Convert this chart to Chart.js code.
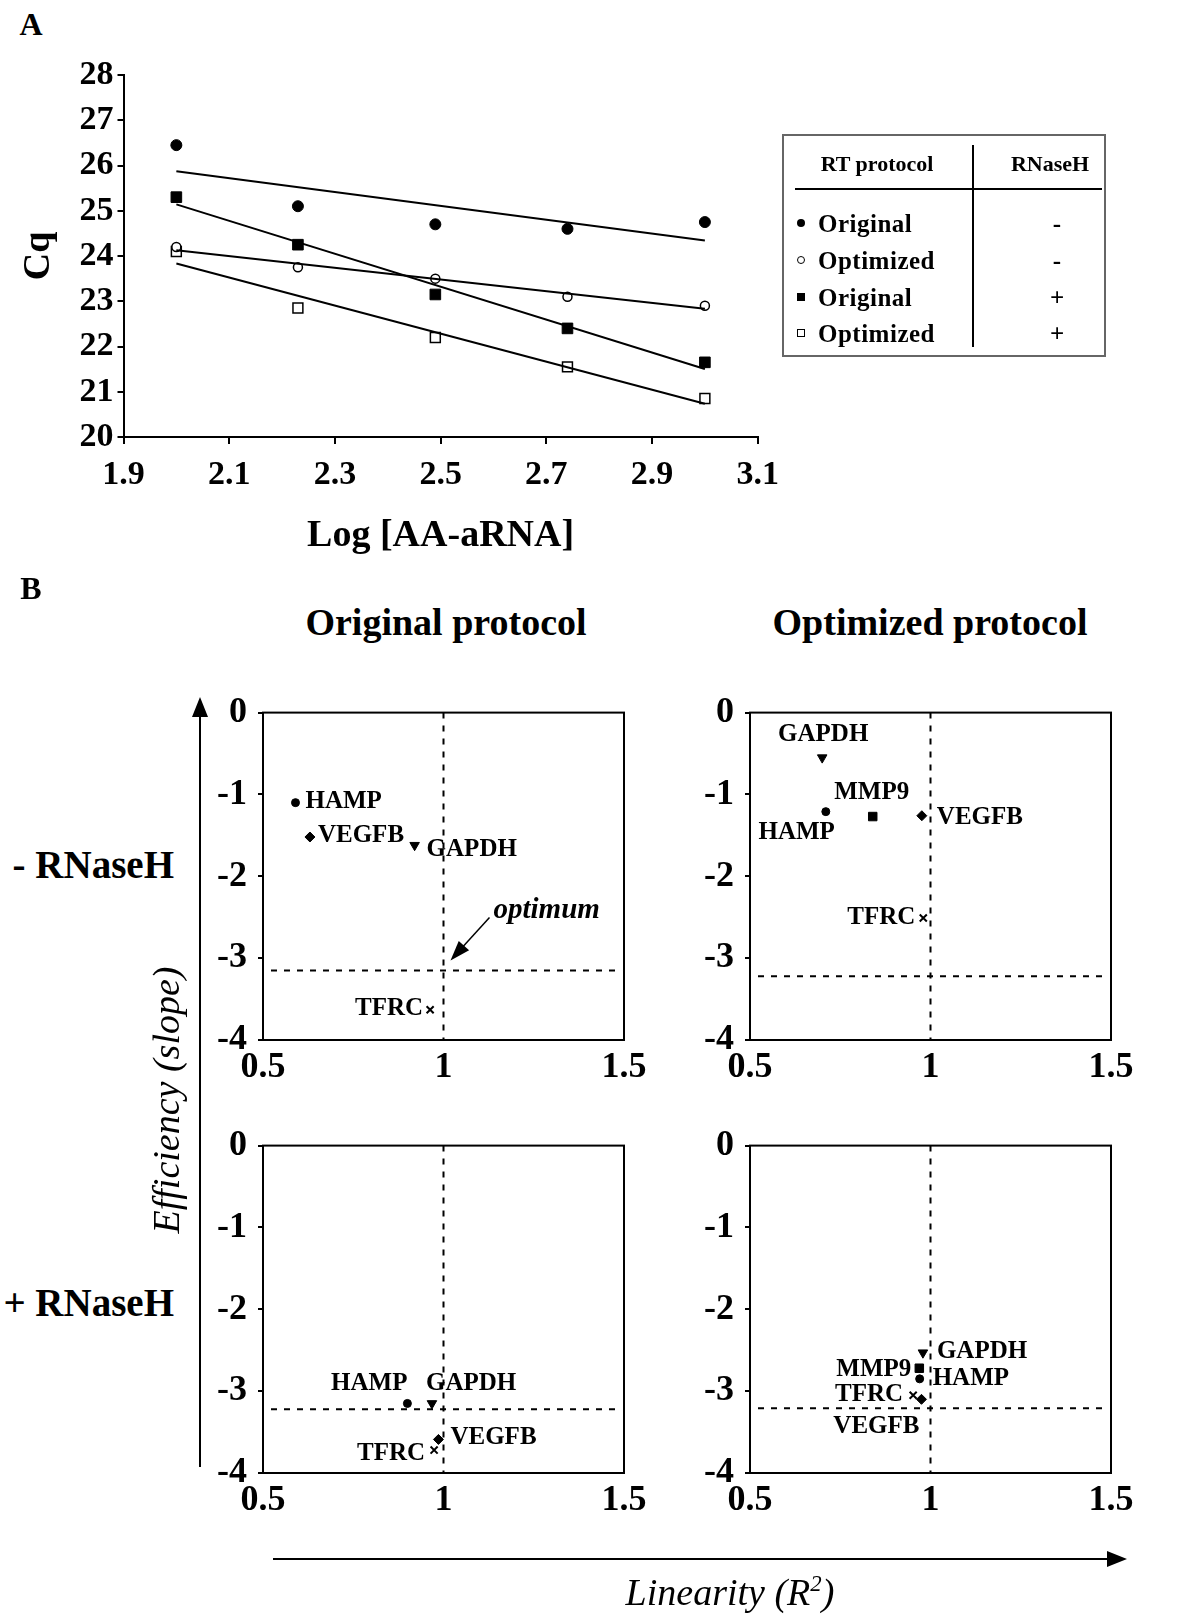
<!DOCTYPE html>
<html>
<head>
<meta charset="utf-8">
<script src="https://cdn.jsdelivr.net/npm/chart.js@4.4.0/dist/chart.umd.min.js"></script>
<style>
body{margin:0;background:#fff;}
#page{position:relative;width:1200px;height:1614px;font-family:"Liberation Serif","Times New Roman",serif;color:#000;overflow:hidden;}
canvas{position:absolute;}
.t{position:absolute;white-space:nowrap;font-weight:bold;line-height:1;transform:translate(-50%,-50%);}
.r{transform:translate(-100%,-50%);}
.l{transform:translate(0,-50%);}
.mk{position:absolute;box-sizing:border-box;transform:translate(-50%,-50%);}
</style>
</head>
<body>
<div id="page">
  <div class="t" style="left:31px;top:24px;font-size:32px">A</div>
  <canvas id="chartA" width="790" height="580" style="left:0;top:0"></canvas>

  <!-- RT protocol / RNaseH key -->
  <div style="position:absolute;left:782px;top:134px;width:324px;height:223px;box-sizing:border-box;border:2px solid #666"></div>
  <div style="position:absolute;left:972px;top:145px;width:2px;height:202px;background:#000"></div>
  <div style="position:absolute;left:795px;top:188px;width:307px;height:2px;background:#000"></div>
  <div class="t" style="left:877px;top:164px;font-size:22px">RT protocol</div>
  <div class="t" style="left:1050px;top:164px;font-size:22px">RNaseH</div>
  <div class="mk" style="left:801px;top:223px;width:8px;height:8px;border-radius:50%;background:#000"></div>
  <div class="mk" style="left:801px;top:260px;width:8px;height:8px;border-radius:50%;border:1.2px solid #000"></div>
  <div class="mk" style="left:801px;top:297px;width:8px;height:8px;background:#000"></div>
  <div class="mk" style="left:801px;top:333px;width:8px;height:8px;border:1.2px solid #000"></div>
  <div class="t l" style="left:818px;top:223px;font-size:25px;letter-spacing:0.5px">Original</div>
  <div class="t l" style="left:818px;top:260px;font-size:25px;letter-spacing:0.5px">Optimized</div>
  <div class="t l" style="left:818px;top:297px;font-size:25px;letter-spacing:0.5px">Original</div>
  <div class="t l" style="left:818px;top:333px;font-size:25px;letter-spacing:0.5px">Optimized</div>
  <div class="t" style="left:1057px;top:223px;font-size:25px">-</div>
  <div class="t" style="left:1057px;top:260px;font-size:25px">-</div>
  <div class="t" style="left:1057px;top:297px;font-size:25px">+</div>
  <div class="t" style="left:1057px;top:333px;font-size:25px">+</div>

  <div class="t" style="left:31px;top:588px;font-size:32px">B</div>
  <div class="t" style="left:446px;top:622px;font-size:38px">Original protocol</div>
  <div class="t" style="left:930px;top:622px;font-size:38px">Optimized protocol</div>
  <div class="t r" style="left:174px;top:864px;font-size:39px">- RNaseH</div>
  <div class="t r" style="left:174px;top:1302px;font-size:39px">+ RNaseH</div>

  <canvas id="chartB1" width="450" height="430" style="left:205px;top:680px"></canvas>
  <canvas id="chartB2" width="450" height="430" style="left:692px;top:680px"></canvas>
  <canvas id="chartB3" width="450" height="430" style="left:205px;top:1113px"></canvas>
  <canvas id="chartB4" width="450" height="430" style="left:692px;top:1113px"></canvas>

  <svg width="1200" height="1614" style="position:absolute;left:0;top:0;pointer-events:none">
    <line x1="200" y1="1467" x2="200" y2="712" stroke="#000" stroke-width="2"/>
    <polygon points="200,697 192,717 208,717" fill="#000"/>
    <line x1="273" y1="1559" x2="1110" y2="1559" stroke="#000" stroke-width="2"/>
    <polygon points="1127,1559 1107,1551 1107,1567" fill="#000"/>
  </svg>
  <div class="t" style="left:166px;top:1100px;font-size:38px;font-weight:normal;font-style:italic;transform:translate(-50%,-50%) rotate(-90deg)">Efficiency (slope)</div>
  <div class="t" style="left:730px;top:1592px;font-size:38px;font-weight:normal;font-style:italic">Linearity (R<sup style="font-size:60%">2</sup>)</div>
</div>

<script>
// panel A: Cq vs log amount of AA-aRNA
const logConc = [2.0, 2.23, 2.49, 2.74, 3.0];
const cqOrigMinus = [26.45, 25.1, 24.7, 24.6, 24.75];
const cqOptMinus  = [24.2, 23.75, 23.5, 23.1, 22.9];
const cqOrigPlus  = [25.3, 24.25, 23.15, 22.4, 21.65];
const cqOptPlus   = [24.1, 22.85, 22.2, 21.55, 20.85];
const cqTicks = [20, 28, 1];
const logTicks = [1.9, 3.1, 0.2];

// panel B: linearity (R2) and efficiency (slope) per gene
const genes = ['HAMP', 'VEGFB', 'GAPDH', 'TFRC', 'MMP9'];
const r2OrigMinus    = [0.59, 0.63, 0.92, 0.963, null];
const slopeOrigMinus = [-1.1, -1.52, -1.62, -3.63, null];
const r2OptMinus     = [0.71, 0.976, 0.70, 0.98, 0.84];
const slopeOptMinus  = [-1.21, -1.26, -0.55, -2.51, -1.27];
const r2OrigPlus     = [0.90, 0.986, 0.968, 0.974, null];
const slopeOrigPlus  = [-3.15, -3.59, -3.15, -3.72, null];
const r2OptPlus      = [0.97, 0.975, 0.979, 0.952, 0.969];
const slopeOptPlus   = [-2.85, -3.10, -2.53, -3.05, -2.72];
const optimumR2 = 1;
const optimumSlope = [-3.15, -3.22, -3.22, -3.21];

const FONT = '"Liberation Serif","Times New Roman",serif';

function linFit(xs, ys) {
  const n = xs.length;
  const mx = xs.reduce((a, b) => a + b, 0) / n;
  const my = ys.reduce((a, b) => a + b, 0) / n;
  let sxy = 0, sxx = 0;
  for (let i = 0; i < n; i++) { sxy += (xs[i] - mx) * (ys[i] - my); sxx += (xs[i] - mx) ** 2; }
  const b = sxy / sxx;
  return x => my + b * (x - mx);
}

function pts(xs, ys) { return xs.map((x, i) => ({x, y: ys[i]})); }

function fitLine(ys) {
  const f = linFit(logConc, ys);
  const x0 = logConc[0], x1 = logConc[logConc.length - 1];
  return {type: 'line', data: [{x: x0, y: f(x0)}, {x: x1, y: f(x1)}], showLine: true,
          borderColor: '#000', borderWidth: 2, pointRadius: 0, fill: false};
}

function markerSet(ys, style, filled, r) {
  return {data: pts(logConc, ys), pointStyle: style, pointRadius: r,
          pointBackgroundColor: filled ? '#000' : '#fff', pointBorderColor: '#000',
          pointBorderWidth: filled ? 1 : 1.5, showLine: false};
}

new Chart(document.getElementById('chartA'), {
  type: 'scatter',
  data: {datasets: [
    fitLine(cqOrigMinus), fitLine(cqOptMinus), fitLine(cqOrigPlus), fitLine(cqOptPlus),
    markerSet(cqOrigMinus, 'circle', true, 5.5),
    markerSet(cqOptMinus, 'circle', false, 4.5),
    markerSet(cqOrigPlus, 'rect', true, 7.5),
    markerSet(cqOptPlus, 'rect', false, 7)
  ]},
  options: {
    responsive: false, animation: false, devicePixelRatio: 1,
    layout: {padding: {top: 75, right: 23, left: 0, bottom: 0}},
    plugins: {legend: {display: false}, tooltip: {enabled: false}},
    scales: {
      x: {type: 'linear', min: logTicks[0], max: logTicks[1],
          ticks: {stepSize: logTicks[2], color: '#000', padding: 11, font: {family: FONT, size: 34, weight: 'bold'}},
          grid: {display: true, drawOnChartArea: false, tickLength: 7, color: '#000', lineWidth: 2},
          border: {display: true, color: '#000', width: 2},
          title: {display: true, text: 'Log [AA-aRNA]', color: '#000', padding: {top: 0, bottom: 21},
                  font: {family: FONT, size: 38, weight: 'bold'}},
          afterFit: s => { s.height = 143; }},
      y: {min: cqTicks[0], max: cqTicks[1],
          ticks: {stepSize: cqTicks[2], color: '#000', padding: 4, font: {family: FONT, size: 34, weight: 'bold'}},
          grid: {display: true, drawOnChartArea: false, tickLength: 6, color: '#000', lineWidth: 2},
          border: {display: true, color: '#000', width: 2},
          title: {display: true, text: 'Cq', color: '#000', padding: {top: 16, bottom: 0},
                  font: {family: FONT, size: 38, weight: 'bold'}},
          afterFit: s => { s.width = 123.5; }}
    }
  }
});

const geneStyle = {
  HAMP:  {style: 'circle',   r: 4,   rot: 0,   bw: 1},
  VEGFB: {style: 'rectRot',  r: 5,   rot: 0,   bw: 1},
  GAPDH: {style: 'triangle', r: 5.5, rot: 180, bw: 1},
  TFRC:  {style: 'crossRot', r: 5,   rot: 0,   bw: 2},
  MMP9:  {style: 'rect',     r: 6,   rot: 0,   bw: 1}
};

const boxPlugin = {
  id: 'box',
  afterDatasetsDraw(chart) {
    const {ctx, chartArea: a} = chart;
    ctx.save();
    ctx.strokeStyle = '#000'; ctx.lineWidth = 2;
    ctx.strokeRect(a.left, a.top, a.right - a.left, a.bottom - a.top);
    ctx.restore();
  }
};

const refLines = {
  id: 'refLines',
  beforeDatasetsDraw(chart, args, o) {
    const {ctx, chartArea: a, scales} = chart;
    const px = scales.x.getPixelForValue(o.x), py = scales.y.getPixelForValue(o.y);
    ctx.save();
    ctx.strokeStyle = '#000'; ctx.lineWidth = 2; ctx.setLineDash([6, 7]);
    ctx.beginPath(); ctx.moveTo(px, a.top); ctx.lineTo(px, a.bottom); ctx.stroke();
    ctx.beginPath(); ctx.moveTo(a.left + 8, py); ctx.lineTo(a.right - 4, py); ctx.stroke();
    ctx.restore();
  }
};

const pointLabels = {
  id: 'pointLabels',
  afterDatasetsDraw(chart, args, o) {
    const ctx = chart.ctx;
    const meta = chart.getDatasetMeta(0);
    const data = chart.data.datasets[0].data;
    ctx.save();
    ctx.font = 'bold 25px ' + FONT;
    ctx.fillStyle = '#000'; ctx.textBaseline = 'middle';
    meta.data.forEach((el, i) => {
      const p = o.place[data[i].g];
      if (!p) return;
      ctx.textAlign = p[0];
      ctx.fillText(data[i].g, el.x + p[1], el.y + p[2]);
    });
    ctx.restore();
  }
};

const optimumArrow = {
  id: 'optimumArrow',
  afterDatasetsDraw(chart, args, o) {
    if (!o.show) return;
    const {ctx, scales} = chart;
    const px = scales.x.getPixelForValue(o.x), py = scales.y.getPixelForValue(o.y);
    const tx = px + 7, ty = py - 10, sx = px + 46, sy = py - 53;
    const ang = Math.atan2(ty - sy, tx - sx);
    ctx.save();
    ctx.strokeStyle = '#000'; ctx.fillStyle = '#000'; ctx.lineWidth = 1.5;
    ctx.beginPath(); ctx.moveTo(sx, sy); ctx.lineTo(tx - 14 * Math.cos(ang), ty - 14 * Math.sin(ang)); ctx.stroke();
    ctx.beginPath();
    ctx.moveTo(tx, ty);
    ctx.lineTo(tx - 20 * Math.cos(ang) + 7 * Math.sin(ang), ty - 20 * Math.sin(ang) - 7 * Math.cos(ang));
    ctx.lineTo(tx - 20 * Math.cos(ang) - 7 * Math.sin(ang), ty - 20 * Math.sin(ang) + 7 * Math.cos(ang));
    ctx.closePath(); ctx.fill();
    ctx.font = 'italic bold 29px ' + FONT;
    ctx.textAlign = 'left'; ctx.textBaseline = 'middle';
    ctx.fillText('optimum', px + 50, py - 60);
    ctx.restore();
  }
};

function makePanel(id, r2, slope, optY, place, showOpt) {
  const data = genes.map((g, i) => ({x: r2[i], y: slope[i], g})).filter(p => p.x !== null);
  const tickFont = {family: FONT, size: 36, weight: 'bold'};
  new Chart(document.getElementById(id), {
    type: 'scatter',
    data: {datasets: [{
      data,
      pointStyle: data.map(p => geneStyle[p.g].style),
      pointRadius: data.map(p => geneStyle[p.g].r),
      pointRotation: data.map(p => geneStyle[p.g].rot),
      pointBorderWidth: data.map(p => geneStyle[p.g].bw),
      pointBackgroundColor: '#000', pointBorderColor: '#000'
    }]},
    options: {
      responsive: false, animation: false, devicePixelRatio: 1,
      layout: {padding: {top: 24, right: 31, left: 0, bottom: 0}},
      plugins: {
        legend: {display: false}, tooltip: {enabled: false},
        refLines: {x: optimumR2, y: optY},
        pointLabels: {place},
        optimumArrow: {show: showOpt, x: optimumR2, y: optY}
      },
      scales: {
        x: {type: 'linear', min: 0.5, max: 1.5,
            ticks: {stepSize: 0.5, color: '#000', padding: 6, font: tickFont, callback: v => String(v)},
            grid: {display: false, drawTicks: false}, border: {display: false},
            afterFit: s => { s.height = 70; }},
        y: {min: -4, max: 0,
            ticks: {stepSize: 1, color: '#000', padding: 11, font: tickFont},
            grid: {display: true, drawOnChartArea: false, tickLength: 5, color: '#000', lineWidth: 2},
            border: {display: false},
            afterFit: s => { s.width = 58; }}
      }
    },
    plugins: [refLines, boxPlugin, pointLabels, optimumArrow]
  });
}

makePanel('chartB1', r2OrigMinus, slopeOrigMinus, optimumSlope[0], {
  HAMP: ['left', 10, -1], VEGFB: ['left', 8, -1], GAPDH: ['left', 12, 4], TFRC: ['right', -7, -1]
}, true);
makePanel('chartB2', r2OptMinus, slopeOptMinus, optimumSlope[1], {
  GAPDH: ['center', 1, -23], HAMP: ['right', 9, 21], MMP9: ['center', -1, -24],
  VEGFB: ['left', 15, 2], TFRC: ['right', -8, 0]
}, false);
makePanel('chartB3', r2OrigPlus, slopeOrigPlus, optimumSlope[2], {
  HAMP: ['right', 0, -20], GAPDH: ['left', -6, -20], VEGFB: ['left', 12, -2], TFRC: ['right', -9, 3]
}, false);
makePanel('chartB4', r2OptPlus, slopeOptPlus, optimumSlope[3], {
  GAPDH: ['left', 14, -1], MMP9: ['right', -8, 1], HAMP: ['left', 13, 0],
  TFRC: ['right', -10, -1], VEGFB: ['right', -2, 27]
}, false);
</script>
</body>
</html>
